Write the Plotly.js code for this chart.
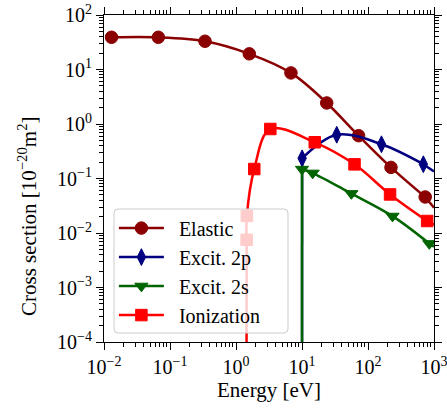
<!DOCTYPE html>
<html>
<head>
<meta charset="utf-8">
<script src="https://cdn.plot.ly/plotly-3.0.1.min.js"></script>
<style>html,body{margin:0;padding:0;background:#fff;}#chart{width:447px;height:411px;}</style>
</head>
<body>
<div id="chart"></div>
<script>
// ---- data ----
var elasticE  = [0.013, 0.0665, 0.339, 1.59, 6.8, 23.7, 72, 223, 735];
var elasticCS = [39, 39, 33, 19.4, 8.65, 2.43, 0.61, 0.160, 0.0458];
var elasticEndE = 1000, elasticEndCS = 0.029;

var exc2pE  = [10.05, 33.6, 160, 689];
var exc2pCS = [0.235, 0.635, 0.425, 0.183];
var exc2pThrE = 10.0, exc2pEndE = 1000, exc2pEndCS = 0.135;

var exc2sE  = [10.0, 14.5, 56, 235, 849];
var exc2sCS = [0.148, 0.126, 0.053, 0.0204, 0.0064];
var exc2sThrE = 10.0, exc2sEndE = 1000, exc2sEndCS = 0.0056;

var ionE  = [1.45, 1.46, 1.89, 3.31, 15.6, 62.5, 216, 788];
var ionCS = [0.0075, 0.0205, 0.149, 0.81, 0.462, 0.182, 0.051, 0.0166];
var ionThrE = 1.44, ionEndE = 1000, ionEndCS = 0.0143;

var seriesNames = ['Elastic', 'Excit. 2p', 'Excit. 2s', 'Ionization'];

var xTickVals = [1e-2, 1e-1, 1e0, 1e1, 1e2, 1e3];
var xTickText = ['10<sup>\u22122</sup>','10<sup>\u22121</sup>','10<sup>0</sup>','10<sup>1</sup>','10<sup>2</sup>','10<sup>3</sup>'];
var yTickVals = [1e-4, 1e-3, 1e-2, 1e-1, 1e0, 1e1, 1e2];
var yTickText = ['10<sup>\u22124</sup>','10<sup>\u22123</sup>','10<sup>\u22122</sup>','10<sup>\u22121</sup>','10<sup>0</sup>','10<sup>1</sup>','10<sup>2</sup>'];

var xTitle = 'Energy [eV]';
var yTitle = 'Cross section [10<sup>\u221220</sup>m<sup>2</sup>]';

var BOTTOM = 1e-6; // below the axis: cross section vanishes at threshold

function minorTicks(lo, hi) {
  var out = [];
  for (var p = lo; p < hi; p++) for (var k = 2; k <= 9; k++) out.push(k * Math.pow(10, p));
  return out;
}

var LW = 2.5;
var series = [
  {name:seriesNames[0], E:elasticE, CS:elasticCS, color:'#8b0000', symbol:'circle', size:12.5, thr:null, endE:elasticEndE, endCS:elasticEndCS},
  {name:seriesNames[1], E:exc2pE, CS:exc2pCS, color:'#000080', symbol:'diamond-tall', size:12, thr:exc2pThrE, endE:exc2pEndE, endCS:exc2pEndCS},
  {name:seriesNames[2], E:exc2sE, CS:exc2sCS, color:'#006400', symbol:'triangle-down', size:11.5, thr:exc2sThrE, endE:exc2sEndE, endCS:exc2sEndCS},
  {name:seriesNames[3], E:ionE, CS:ionCS, color:'#ff0000', symbol:'square', size:11.5, thr:ionThrE, endE:ionEndE, endCS:ionEndCS}
];

var traces = [];
series.forEach(function(s, i){
  var n = s.E.length;
  traces.push({x:[s.E[n-1], s.endE], y:[s.CS[n-1], s.endCS], mode:'lines', type:'scatter',
    line:{color:s.color, width:LW}, showlegend:false, hoverinfo:'skip', legendgroup:'g'+i});
  if (s.thr !== null) {
    traces.push({x:[s.thr, s.E[0]], y:[BOTTOM, s.CS[0]], mode:'lines', type:'scatter',
      line:{color:s.color, width:LW}, showlegend:false, hoverinfo:'skip', legendgroup:'g'+i});
  }
});
series.forEach(function(s, i){
  traces.push({x:s.E, y:s.CS, name:'\u2002' + s.name, mode:'lines+markers', type:'scatter',
    line:{color:s.color, width:LW, shape:'spline', smoothing:1},
    marker:{color:s.color, symbol:s.symbol, size:s.size, line:{color:s.color, width:1}},
    legendgroup:'g'+i});
});

var FAM = '"Liberation Serif", "Times New Roman", serif';
var font = {family:FAM, size:20, color:'#000'};
var axisCommon = {
  type:'log', showline:true, linecolor:'#000', linewidth:1, mirror:'allticks',
  ticks:'outside', ticklen:7, tickwidth:1, tickcolor:'#000', ticklabeloverflow:'allow',
  showgrid:false, zeroline:false, tickmode:'array', tickfont:font
};

// legend frame (rounded, semi-transparent) in paper coordinates
var plotL = 104, plotW = 330, plotT = 15, plotH = 327;
function px2x(p){ return (p - plotL) / plotW; }
function px2y(p){ return (plotT + plotH - p) / plotH; }
var bx0 = px2x(114), bx1 = px2x(288), by0 = px2y(333), by1 = px2y(209);
var rx = 4 / plotW, ry = 4 / plotH;
var framePath = 'M' + (bx0+rx) + ',' + by1 + ' L' + (bx1-rx) + ',' + by1 +
  ' Q' + bx1 + ',' + by1 + ' ' + bx1 + ',' + (by1-ry) +
  ' L' + bx1 + ',' + (by0+ry) + ' Q' + bx1 + ',' + by0 + ' ' + (bx1-rx) + ',' + by0 +
  ' L' + (bx0+rx) + ',' + by0 + ' Q' + bx0 + ',' + by0 + ' ' + bx0 + ',' + (by0+ry) +
  ' L' + bx0 + ',' + (by1-ry) + ' Q' + bx0 + ',' + by1 + ' ' + (bx0+rx) + ',' + by1 + ' Z';

var layout = {
  width:447, height:411,
  margin:{l:plotL, r:447-plotL-plotW, t:plotT, b:411-plotT-plotH, pad:0},
  paper_bgcolor:'#fff', plot_bgcolor:'#fff',
  font:font, showlegend:true,
  xaxis:Object.assign({}, axisCommon, {
    range:[-2, 3], tickvals:xTickVals, ticktext:xTickText,
    minor:{tickmode:'array', tickvals:minorTicks(-2,3), ticks:'outside', ticklen:4, tickwidth:1, tickcolor:'#000', showgrid:false},
    title:{text:xTitle, font:{family:FAM, size:21, color:'#000'}, standoff:5}
  }),
  yaxis:Object.assign({}, axisCommon, {
    range:[-4, 2], tickvals:yTickVals, ticktext:yTickText,
    minor:{tickmode:'array', tickvals:minorTicks(-4,2), ticks:'outside', ticklen:4, tickwidth:1, tickcolor:'#000', showgrid:false},
    title:{text:''}
  }),
  annotations:[{
    text:yTitle, textangle:-90, showarrow:false,
    xref:'paper', yref:'paper', x:px2x(27), y:px2y(216), xanchor:'center', yanchor:'middle',
    font:{family:FAM, size:21, color:'#000'}
  }],
  shapes:[{type:'path', xref:'paper', yref:'paper', path:framePath, layer:'above',
    fillcolor:'rgba(255,255,255,0.8)', line:{color:'rgba(204,204,204,1)', width:1}}],
  legend:{x:0.03, y:0.408, xanchor:'left', yanchor:'top', bgcolor:'rgba(0,0,0,0)',
    borderwidth:0, font:font, itemwidth:45, tracegroupgap:0}
};

Plotly.newPlot('chart', traces, layout, {staticPlot:true, displayModeBar:false});
</script>
</body>
</html>
